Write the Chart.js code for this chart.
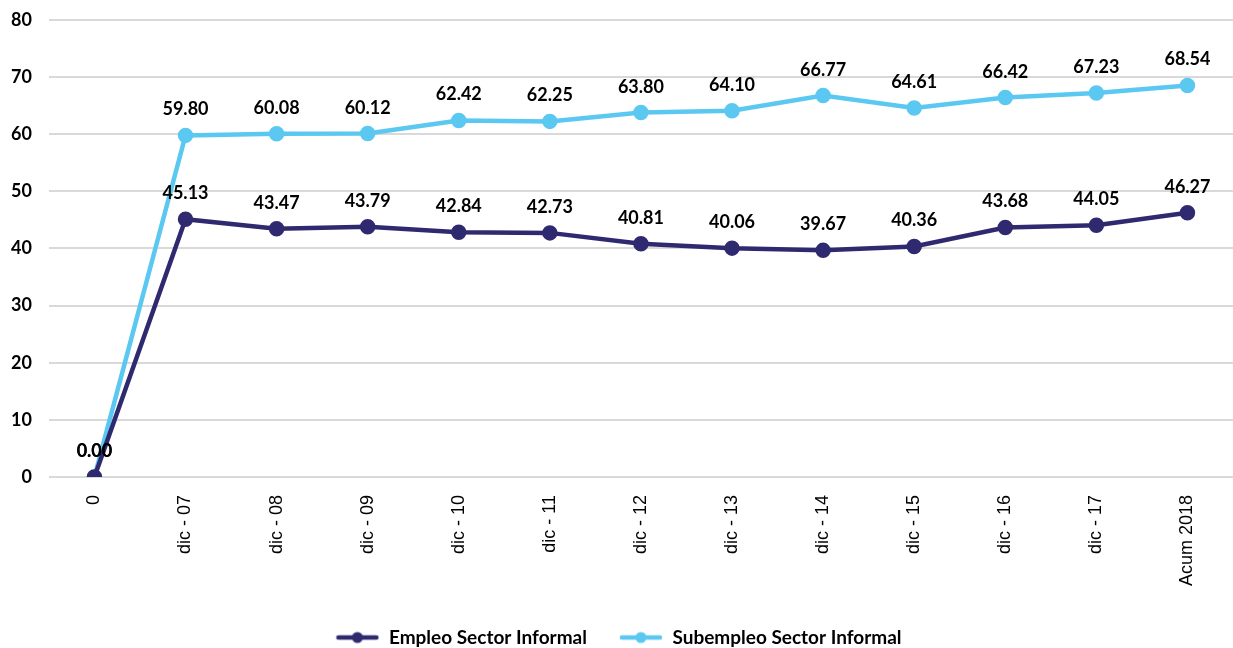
<!DOCTYPE html>
<html>
<head>
<meta charset="utf-8">
<script src="https://cdn.jsdelivr.net/npm/chart.js@4"></script>
<style>
  html, body { margin: 0; padding: 0; background: #fff; overflow: hidden; }
  canvas { display: block; }
</style>
</head>
<body>
<canvas id="chart" width="1243" height="657"></canvas>
<script>
// periods and series
const labels = ["0", "dic - 07", "dic - 08", "dic - 09", "dic - 10", "dic - 11", "dic - 12",
  "dic - 13", "dic - 14", "dic - 15", "dic - 16", "dic - 17", "Acum 2018"];
const empleo = [0.00, 45.13, 43.47, 43.79, 42.84, 42.73, 40.81, 40.06, 39.67, 40.36, 43.68, 44.05, 46.27];
const subempleo = [0.00, 59.80, 60.08, 60.12, 62.42, 62.25, 63.80, 64.10, 66.77, 64.61, 66.42, 67.23, 68.54];

const navy = "#2f2a6f";
const sky = "#5bc8f1";

// line + dot icon for the legend
function legendIcon(color) {
  const c = document.createElement("canvas");
  c.width = 44; c.height = 14;
  const g = c.getContext("2d");
  g.strokeStyle = color; g.lineWidth = 4.5; g.lineCap = "round";
  g.beginPath(); g.moveTo(3, 7); g.lineTo(41, 7); g.stroke();
  g.fillStyle = color;
  g.beginPath(); g.arc(22, 7, 5.5, 0, Math.PI * 2); g.fill();
  return c;
}

// values above each point
const valueLabels = {
  id: "valueLabels",
  afterDatasetsDraw(chart) {
    const ctx = chart.ctx;
    ctx.save();
    ctx.font = "bold 18px Lato";
    ctx.fillStyle = "#000";
    ctx.textAlign = "center";
    ctx.textBaseline = "alphabetic";
    chart.data.datasets.forEach((ds, i) => {
      chart.getDatasetMeta(i).data.forEach((pt, j) => {
        ctx.fillText(ds.data[j].toFixed(2), pt.x, pt.y - 20);
      });
    });
    ctx.restore();
  }
};

new Chart(document.getElementById("chart"), {
  type: "line",
  data: {
    labels: labels,
    datasets: [
      {
        label: "Empleo Sector Informal",
        data: empleo,
        borderColor: navy,
        backgroundColor: navy,
        borderWidth: 4.5,
        pointRadius: 5.5,
        pointHoverRadius: 5.5,
        tension: 0
      },
      {
        label: "Subempleo Sector Informal",
        data: subempleo,
        borderColor: sky,
        backgroundColor: sky,
        borderWidth: 4.5,
        pointRadius: 5.5,
        pointHoverRadius: 5.5,
        tension: 0
      }
    ]
  },
  options: {
    responsive: false,
    animation: false,
    devicePixelRatio: 1,
    layout: { padding: { top: 20, right: 0, left: -6, bottom: 0 } },
    scales: {
      x: {
        offset: true,
        grid: { display: false },
        border: { display: false },
        ticks: {
          color: "#000",
          font: { family: "Liberation Sans", size: 18 },
          minRotation: 90,
          maxRotation: 90,
          padding: 10
        }
      },
      y: {
        min: 0,
        max: 80,
        grid: { color: "#d9d9d9", lineWidth: 2, drawTicks: false },
        border: { display: false },
        ticks: {
          stepSize: 10,
          color: "#000",
          font: { family: "Lato", size: 18, weight: "bold" },
          padding: 17
        },
        // tick padding should only push labels sideways, not shrink the plot
        afterFit(scale) {
          scale.paddingTop = 0;
          scale.paddingBottom = 0;
        }
      }
    },
    plugins: {
      legend: {
        position: "bottom",
        labels: {
          color: "#000",
          font: { family: "Lato", size: 19, weight: "bold" },
          usePointStyle: true,
          pointStyleWidth: 44,
          padding: 32,
          generateLabels(chart) {
            return chart.data.datasets.map((ds, i) => ({
              text: ds.label,
              pointStyle: legendIcon(ds.borderColor),
              fillStyle: ds.borderColor,
              strokeStyle: ds.borderColor,
              lineWidth: 0,
              datasetIndex: i
            }));
          }
        }
      },
      tooltip: { enabled: false }
    }
  },
  plugins: [valueLabels]
});
</script>
</body>
</html>
